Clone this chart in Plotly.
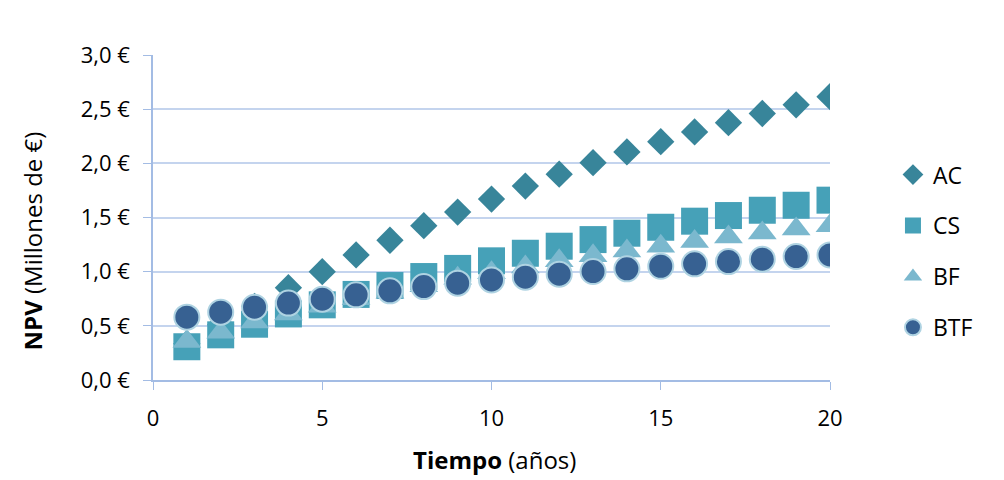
import plotly.graph_objects as go

years = list(range(1, 21))

ac = [0.335, 0.51, 0.68, 0.852, 1.0, 1.155, 1.29, 1.425, 1.55, 1.67,
      1.79, 1.90, 2.006, 2.105, 2.20, 2.29, 2.375, 2.46, 2.54, 2.615]
cs = [0.307, 0.417, 0.515, 0.61, 0.694, 0.79, 0.872, 0.955, 1.03, 1.10,
      1.17, 1.235, 1.296, 1.355, 1.41, 1.466, 1.518, 1.567, 1.613, 1.66]
bf = [0.355, 0.44, 0.535, 0.61, 0.68, 0.75, 0.81, 0.87, 0.94, 0.99,
      1.044, 1.10, 1.146, 1.19, 1.235, 1.278, 1.32, 1.358, 1.395, 1.425]
btf = [0.58, 0.626, 0.672, 0.71, 0.746, 0.786, 0.823, 0.862, 0.894, 0.924,
       0.949, 0.977, 1.001, 1.026, 1.05, 1.072, 1.093, 1.115, 1.14, 1.155]

font = "Open Sans"
axis_col = "#A3BCE4"
grid_col = "#C4D4EE"

fig = go.Figure()

# series, drawn in this order so circles end up on top
fig.add_trace(go.Scatter(x=years, y=ac, mode="markers", name="AC", legendgroup="ac",
                         marker=dict(symbol="diamond", size=21, color="#38859A")))
fig.add_trace(go.Scatter(x=years, y=cs, mode="markers", name="CS", legendgroup="cs",
                         marker=dict(symbol="square", size=27, color="#46A1B8")))
fig.add_trace(go.Scatter(x=years, y=bf, mode="markers", name="BF", legendgroup="bf",
                         marker=dict(symbol="triangle-up", size=25, color="#7BB8CE")))
fig.add_trace(go.Scatter(x=years, y=btf, mode="markers", name="BTF", legendgroup="btf",
                         marker=dict(symbol="circle", size=25, color="#376192",
                                     line=dict(color="#AFD3E2", width=2))))

# page has an 8px body margin, so the figure is a bit smaller than the window
fig.update_layout(
    width=996, height=472,
    margin=dict(l=145, r=174, t=47, b=100),
    paper_bgcolor="white", plot_bgcolor="white",
    separators=", ",
    font=dict(family=font, size=22, color="#000000"),
    showlegend=True,
    legend=dict(x=1.093, y=0.698, xanchor="left", yanchor="top",
                font=dict(size=23), tracegroupgap=18, bgcolor="rgba(0,0,0,0)"),
    xaxis=dict(range=[0, 20], tickvals=[0, 5, 10, 15, 20], showgrid=False,
               zeroline=False, showline=True, linecolor=axis_col, linewidth=1.5,
               ticks="outside", ticklen=8, tickcolor=axis_col,
               ticklabelstandoff=10, tickfont=dict(size=22)),
    yaxis=dict(range=[0, 3], dtick=0.5, tickformat=".1f", ticksuffix=" €",
               showgrid=True, gridcolor=grid_col, gridwidth=1.5,
               zeroline=False, showline=True, linecolor=axis_col, linewidth=1.5,
               ticks="outside", ticklen=8, tickcolor=axis_col,
               ticklabelstandoff=9, tickfont=dict(size=22)),
    annotations=[
        dict(text="<b>NPV</b> (Millones de €)", xref="paper", yref="paper",
             x=-0.178, y=0.428, textangle=-90, showarrow=False,
             xanchor="center", yanchor="middle", font=dict(size=24)),
        dict(text="<b>Tiempo</b> (años)", xref="paper", yref="paper",
             x=0.504, y=-0.246, showarrow=False,
             xanchor="center", yanchor="middle", font=dict(size=24)),
    ],
)

fig.write_html("out.html")
